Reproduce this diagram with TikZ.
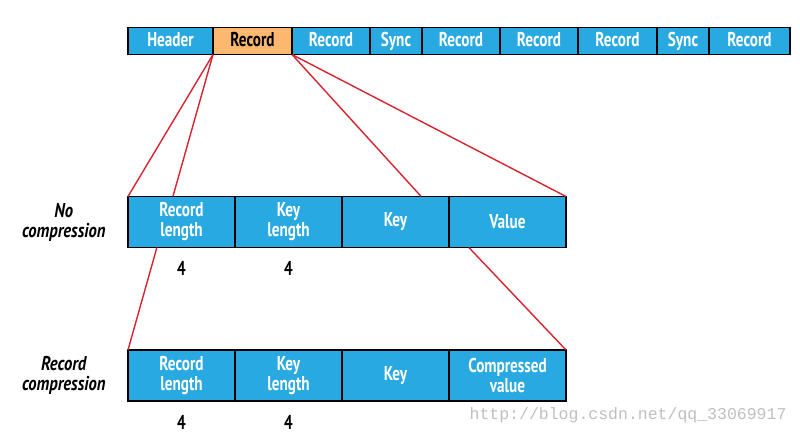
\documentclass[tikz,border=0pt]{standalone}
\usepackage{fontspec}
\setmainfont{PT Sans}[FakeStretch=0.76]
\newfontfamily\sidefont{PT Sans}[FakeStretch=0.83]
\newfontfamily\wmfont{Liberation Mono}
\usetikzlibrary{positioning,calc}
\definecolor{cellblue}{HTML}{29A9E1}
\definecolor{cellorange}{HTML}{FBB86E}
\definecolor{linkred}{HTML}{D8232F}
\tikzset{
  cell/.style={draw=black,line width=1.3pt,fill=cellblue,text=white,inner sep=0pt,outer sep=0pt,
    minimum height=27pt,font=\fontsize{20}{20}\selectfont\bfseries},
  bar/.style={cell,text height=14pt,text depth=4pt},
  field/.style={cell,minimum height=51pt,minimum width=107pt,align=center},
  link/.style={linkred,line width=1.4pt},
  side/.style={anchor=east,align=center,font=\sidefont\fontsize{20}{20}\selectfont\bfseries\itshape},
  size/.style={font=\fontsize{20}{20}\selectfont\bfseries}
}

\begin{document}
\begin{tikzpicture}[x=1pt,y=-1pt]
      \useasboundingbox (0,0) rectangle (800,437);
      % file layout
      \node[bar,minimum width=85pt,anchor=west] (hdr) at (128,41) {Header};
      \node[bar,minimum width=79pt,fill=cellorange,text=black,right=0pt of hdr] (rec) {Record};
      \node[bar,minimum width=78pt,right=0pt of rec] (r2) {Record};
      \node[bar,minimum width=52pt,right=0pt of r2] (sy1) {Sync};
      \node[bar,minimum width=78pt,right=0pt of sy1] (r3) {Record};
      \node[bar,minimum width=78pt,right=0pt of r3] (r4) {Record};
      \node[bar,minimum width=79pt,right=0pt of r4] (r5) {Record};
      \node[bar,minimum width=52pt,right=0pt of r5] (sy2) {Sync};
      \node[bar,minimum width=81pt,right=0pt of sy2] (r6) {Record};

      % no compression
      \node[field,anchor=west] (nc1) at (128,222) {Record\\length};
      \node[field,right=0pt of nc1] (nc2) {Key\\length};
      \node[field,right=0pt of nc2] (nc3) {Key};
      \node[field,minimum width=117pt,right=0pt of nc3] (nc4) {Value};
      \node[side] (nclab) at (109,222) {No\\compression};
      \node[size] (nc1s) at ([yshift=-21pt]nc1.south) {4};
      \node[size] (nc2s) at ([yshift=-21pt]nc2.south) {4};

      % record compression
      \node[field,anchor=west] (rc1) at (128,375.5) {Record\\length};
      \node[field,right=0pt of rc1] (rc2) {Key\\length};
      \node[field,right=0pt of rc2] (rc3) {Key};
      \node[field,minimum width=117pt,right=0pt of rc3] (rc4) {Compressed\\value};
      \node[side] (rclab) at (109,375.5) {Record\\compression};
      \node[size] (rc1s) at ([yshift=-21pt]rc1.south) {4};
      \node[size] (rc2s) at ([yshift=-21pt]rc2.south) {4};

      \draw[link] (rec.south west) -- (nc1.north west);
      \draw[link] (rec.south west) -- ($(nc1.north west)!0.42!(nc1.north east)$);
      \draw[link] (rec.south east) -- ($(nc3.north west)!0.74!(nc3.north east)$);
      \draw[link] (rec.south east) -- (nc4.north east);
      \draw[link] ($(nc1.south west)!0.27!(nc1.south east)$) -- (rc1.north west);
      \draw[link] ($(nc4.south west)!0.17!(nc4.south east)$) -- (rc4.north east);

      \node[anchor=east,text=gray!50,font=\wmfont\fontsize{16.5}{18}\selectfont] (wm) at (790,415) {http://blog.csdn.net/qq\_33069917};
    \end{tikzpicture}
\end{document}
